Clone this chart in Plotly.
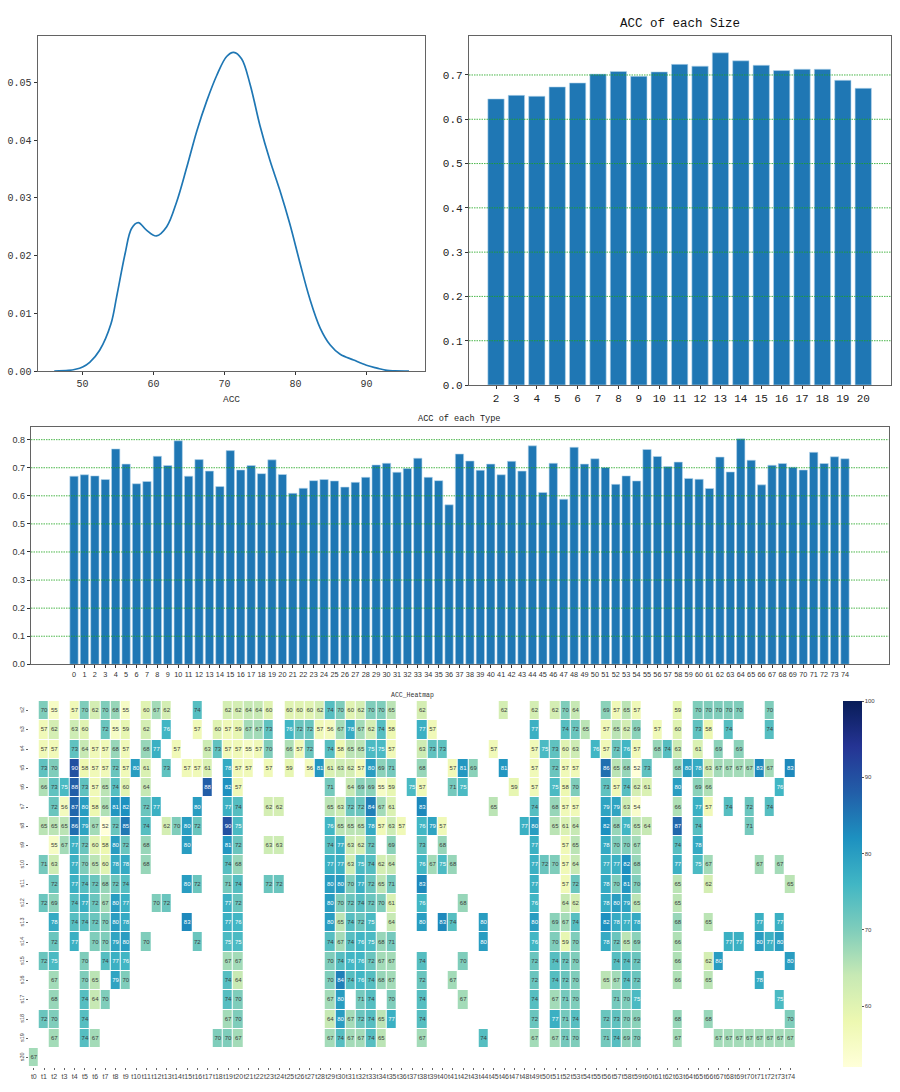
"""ACC overview: density, accuracy per size, accuracy per type and a size/type heatmap."""

import plotly.graph_objects as go

FIG_W = 900
FIG_H = 1092
BAR_BLUE = "#1f77b4"
FRAME = "#636363"
GRID = "rgba(30,165,30,0.8)"
MONO = "Liberation Mono, monospace"
SANS = "Liberation Sans, Arial, sans-serif"

# density curve
kde_x = [46, 48, 49, 50, 51, 52.4, 54, 54.8, 56, 56.9, 57.85, 59, 60.4, 61.85, 63.25,
         64.7, 66.1, 67.5, 68.9, 70.3, 71.3, 72.4, 73.6, 75, 76.4, 77.8, 79.2, 80.6,
         82, 83.5, 84.9, 86.3, 88.2, 90, 91.5, 92.9, 94, 96]
kde_y = [0, 0.0001, 0.0003, 0.0007, 0.0015, 0.0036, 0.0082, 0.0129, 0.0204, 0.0247,
         0.0257, 0.0244, 0.0234, 0.025, 0.0293, 0.0354, 0.0416, 0.0468, 0.0512, 0.0545,
         0.0552, 0.0541, 0.0497, 0.0425, 0.0365, 0.0313, 0.0255, 0.0189, 0.0126, 0.0074,
         0.0045, 0.0029, 0.0019, 0.001, 0.0005, 0.0001, 0.00003, 0]

size_labels = list(range(2, 21))
size_acc = [0.646, 0.654, 0.652, 0.673, 0.682, 0.702, 0.708, 0.697, 0.707, 0.724,
            0.72, 0.75, 0.732, 0.722, 0.71, 0.713, 0.713, 0.688, 0.67]

type_labels = list(range(75))
type_acc = [0.67, 0.675, 0.671, 0.658, 0.767, 0.713, 0.643, 0.651, 0.741, 0.708,
            0.796, 0.67, 0.729, 0.688, 0.633, 0.761, 0.692, 0.708, 0.679, 0.728,
            0.676, 0.609, 0.627, 0.654, 0.658, 0.653, 0.631, 0.648, 0.666, 0.71,
            0.716, 0.684, 0.697, 0.734, 0.666, 0.654, 0.568, 0.749, 0.724, 0.691,
            0.713, 0.675, 0.723, 0.688, 0.778, 0.612, 0.716, 0.588, 0.773, 0.713,
            0.732, 0.701, 0.641, 0.671, 0.653, 0.765, 0.74, 0.704, 0.72, 0.662,
            0.659, 0.626, 0.738, 0.685, 0.803, 0.727, 0.639, 0.709, 0.715, 0.702,
            0.692, 0.755, 0.715, 0.739, 0.732]

# heatmap cells per size, {type index: accuracy}; anything missing stays blank
s2 = {1: 70, 2: 55, 4: 57, 5: 70, 6: 62, 7: 70, 8: 68, 9: 55, 11: 60, 12: 67, 13: 62, 16: 74,
      19: 62, 20: 62, 21: 64, 22: 64, 23: 60, 25: 60, 26: 60, 27: 60, 28: 62, 29: 74, 30: 70,
      31: 60, 32: 62, 33: 70, 34: 70, 35: 65, 38: 62, 46: 62, 49: 62, 51: 62, 52: 70, 53: 64,
      56: 69, 57: 57, 58: 65, 59: 57, 63: 59, 65: 70, 66: 70, 67: 70, 68: 70, 69: 70, 72: 70}
s3 = {1: 57, 2: 62, 4: 63, 5: 60, 7: 72, 8: 55, 9: 59, 11: 62, 13: 76, 16: 57, 18: 60, 19: 57,
      20: 59, 21: 67, 22: 67, 23: 73, 25: 76, 26: 72, 27: 72, 28: 57, 29: 56, 30: 67, 31: 78,
      32: 67, 33: 62, 34: 74, 35: 58, 38: 77, 39: 57, 49: 77, 52: 74, 53: 72, 54: 65, 56: 57,
      57: 65, 58: 62, 59: 69, 61: 57, 63: 60, 65: 73, 66: 58, 68: 74, 72: 74}
s4 = {1: 57, 2: 57, 4: 73, 5: 64, 6: 57, 7: 57, 8: 68, 9: 57, 11: 68, 12: 77, 14: 57, 17: 63,
      18: 73, 19: 57, 20: 57, 21: 55, 22: 57, 23: 70, 25: 66, 26: 57, 27: 72, 29: 74, 30: 58,
      31: 65, 32: 65, 33: 75, 34: 75, 35: 57, 38: 63, 39: 73, 40: 73, 45: 57, 49: 57, 50: 75,
      51: 73, 52: 60, 53: 63, 55: 76, 56: 57, 57: 72, 58: 76, 59: 57, 61: 68, 62: 74, 63: 63,
      65: 61, 67: 69, 69: 69}
s5 = {1: 73, 2: 70, 4: 90, 5: 58, 6: 57, 7: 57, 8: 72, 9: 57, 10: 80, 11: 61, 13: 73, 15: 57,
      16: 57, 17: 61, 19: 78, 20: 57, 21: 57, 23: 57, 25: 59, 27: 56, 28: 81, 29: 61, 30: 63,
      31: 62, 32: 57, 33: 80, 34: 69, 35: 71, 38: 68, 41: 57, 42: 81, 43: 69, 46: 81, 49: 57,
      51: 72, 52: 57, 53: 57, 56: 86, 57: 65, 58: 68, 59: 52, 60: 73, 63: 68, 64: 80, 65: 78,
      66: 63, 67: 67, 68: 67, 69: 67, 70: 67, 71: 83, 72: 67, 74: 83}
s6 = {1: 66, 2: 73, 3: 75, 4: 88, 5: 73, 6: 57, 7: 65, 8: 74, 9: 60, 11: 64, 17: 88, 19: 82,
      20: 57, 29: 71, 31: 64, 32: 69, 33: 69, 34: 55, 35: 59, 37: 75, 38: 57, 41: 71, 42: 75,
      47: 59, 49: 57, 51: 75, 52: 58, 53: 70, 56: 73, 57: 57, 58: 74, 59: 62, 60: 61, 63: 80,
      65: 69, 66: 66, 73: 76}
s7 = {2: 72, 3: 56, 4: 87, 5: 80, 6: 58, 7: 66, 8: 81, 9: 82, 11: 72, 12: 77, 16: 80, 19: 77,
      20: 74, 23: 62, 24: 62, 29: 65, 30: 63, 31: 72, 32: 72, 33: 84, 34: 67, 35: 61, 38: 83,
      45: 65, 49: 74, 51: 68, 52: 57, 53: 57, 56: 79, 57: 79, 58: 63, 59: 54, 63: 66, 65: 77,
      66: 57, 68: 74, 70: 72, 72: 74}
s8 = {1: 65, 2: 65, 3: 65, 4: 86, 5: 79, 6: 67, 7: 52, 8: 72, 9: 85, 11: 74, 13: 62, 14: 70,
      15: 80, 16: 72, 19: 90, 20: 75, 29: 76, 30: 65, 31: 65, 32: 65, 33: 78, 34: 57, 35: 63,
      36: 57, 38: 76, 39: 79, 40: 57, 48: 77, 49: 80, 51: 65, 52: 61, 53: 64, 56: 82, 57: 68,
      58: 76, 59: 65, 60: 64, 63: 87, 65: 74, 70: 71}
s9 = {2: 55, 3: 67, 4: 77, 5: 72, 6: 60, 7: 58, 8: 80, 9: 72, 11: 68, 15: 80, 19: 81, 20: 72,
      23: 63, 24: 63, 29: 74, 30: 77, 31: 63, 32: 62, 33: 72, 35: 69, 38: 73, 40: 68, 49: 77,
      52: 57, 53: 65, 56: 78, 57: 70, 58: 70, 59: 67, 63: 74, 65: 78}
s10 = {1: 71, 2: 63, 4: 77, 5: 70, 6: 65, 7: 60, 8: 78, 9: 78, 11: 68, 19: 74, 20: 68, 29: 77,
       30: 77, 31: 63, 32: 75, 33: 74, 34: 62, 35: 64, 38: 76, 39: 67, 40: 75, 41: 68, 49: 77,
       50: 72, 51: 70, 52: 57, 53: 64, 56: 77, 57: 77, 58: 82, 59: 68, 63: 77, 65: 75, 66: 67,
       71: 67, 73: 67}
s11 = {2: 72, 4: 77, 5: 74, 6: 72, 7: 68, 8: 72, 9: 74, 15: 80, 16: 72, 19: 71, 20: 74, 23: 72,
       24: 72, 29: 80, 30: 80, 31: 70, 32: 77, 33: 72, 34: 65, 35: 71, 38: 83, 49: 77, 52: 57,
       53: 72, 56: 78, 57: 70, 58: 81, 59: 70, 63: 65, 66: 62, 74: 65}
s12 = {1: 72, 2: 69, 4: 74, 5: 77, 6: 72, 7: 67, 8: 80, 9: 77, 12: 70, 13: 72, 19: 77, 20: 72,
       29: 80, 30: 70, 31: 72, 32: 74, 33: 72, 34: 70, 35: 61, 38: 76, 42: 68, 49: 76, 52: 64,
       53: 62, 56: 78, 57: 80, 58: 79, 59: 65, 63: 65}
s13 = {2: 78, 4: 74, 5: 74, 6: 72, 7: 70, 8: 80, 9: 78, 15: 83, 19: 77, 20: 76, 29: 80, 30: 65,
       31: 74, 32: 72, 33: 75, 35: 64, 38: 80, 40: 83, 41: 74, 44: 80, 49: 80, 51: 69, 52: 67,
       53: 74, 56: 82, 57: 78, 58: 77, 59: 78, 63: 68, 66: 65, 71: 77, 73: 77}
s14 = {2: 72, 4: 77, 6: 70, 7: 70, 8: 79, 9: 80, 11: 70, 16: 72, 19: 75, 20: 75, 29: 74, 30: 67,
       31: 74, 32: 76, 33: 75, 34: 68, 35: 71, 44: 80, 49: 76, 51: 70, 52: 59, 53: 70, 56: 78,
       57: 72, 58: 65, 59: 69, 63: 66, 68: 77, 69: 77, 71: 80, 72: 77, 73: 80}
s15 = {1: 72, 2: 75, 5: 70, 7: 74, 8: 77, 9: 76, 19: 67, 20: 67, 29: 70, 30: 74, 31: 76, 32: 76,
       33: 72, 34: 67, 35: 67, 38: 74, 42: 70, 49: 72, 51: 74, 52: 72, 53: 70, 57: 74, 58: 74,
       59: 72, 63: 66, 66: 62, 67: 80, 74: 80}
s16 = {2: 67, 5: 70, 6: 65, 8: 79, 9: 70, 19: 74, 20: 64, 29: 70, 30: 84, 31: 74, 32: 76, 33: 74,
       34: 68, 35: 67, 38: 72, 41: 67, 49: 72, 51: 74, 52: 72, 53: 70, 56: 65, 57: 67, 58: 74,
       59: 72, 63: 66, 66: 65, 71: 78}
s17 = {2: 68, 5: 74, 6: 64, 7: 70, 19: 74, 20: 70, 29: 67, 30: 80, 32: 71, 33: 74, 35: 70, 38: 74,
       42: 67, 49: 74, 51: 67, 52: 71, 53: 70, 57: 71, 58: 70, 59: 75, 73: 75}
s18 = {1: 72, 2: 70, 5: 74, 19: 67, 20: 70, 29: 64, 30: 80, 31: 67, 32: 72, 33: 74, 34: 65, 35: 77,
       38: 74, 49: 72, 51: 77, 52: 71, 53: 74, 56: 72, 57: 73, 58: 70, 59: 69, 63: 68, 66: 68, 74: 70}
s19 = {2: 67, 5: 74, 6: 67, 18: 70, 19: 70, 20: 67, 29: 67, 30: 74, 31: 67, 32: 67, 33: 74, 34: 65,
       38: 67, 44: 74, 49: 67, 51: 67, 52: 71, 53: 70, 56: 71, 57: 74, 58: 69, 59: 70, 63: 67,
       67: 67, 68: 67, 69: 67, 70: 67, 71: 67, 72: 67, 73: 67, 74: 67}
s20 = {0: 67}

heat_rows = [s2, s3, s4, s5, s6, s7, s8, s9, s10, s11, s12, s13, s14, s15, s16, s17, s18, s19, s20]
row_names = [f"s{i}" for i in range(2, 21)]
col_names = [f"t{i}" for i in range(75)]
color_ticks = [60, 70, 80, 90, 100]


def x_dom(left, right):
    return [left / FIG_W, right / FIG_W]


def y_dom(top, bottom):
    return [1 - bottom / FIG_H, 1 - top / FIG_H]


def frame_axis(**kw):
    return dict(showline=True, linecolor=FRAME, linewidth=1.3, mirror=True, ticks="outside",
                ticklen=3, tickcolor="#333333", showgrid=False, zeroline=False, **kw)


def green_gridline(fig, value, xref, yref):
    # shapes so that the dotted lines stay on top of the bars
    fig.add_shape(type="line", xref=f"{xref} domain", yref=yref, x0=0, x1=1, y0=value, y1=value,
                  line=dict(color=GRID, width=1, dash="1.5px,1px"), layer="above")


def title_note(text, x_px, y_px, size, color):
    return dict(text=text, x=x_px / FIG_W, y=1 - y_px / FIG_H, xref="paper", yref="paper",
                xanchor="center", yanchor="middle", showarrow=False,
                font=dict(family=MONO, size=size, color=color))


matrix = [[row.get(i) for i in range(75)] for row in heat_rows]
cell_x, cell_y, cell_text, cell_color = [], [], [], []
for name, row in zip(row_names, heat_rows):
    for col, val in row.items():
        cell_x.append(col_names[col])
        cell_y.append(name)
        cell_text.append(str(val))
        cell_color.append("#ffffff" if val >= 75 else "#3c3c3c")

fig = go.Figure()
fig.add_trace(go.Scatter(x=kde_x, y=kde_y, mode="lines", xaxis="x", yaxis="y",
                         line=dict(color=BAR_BLUE, width=1.7, shape="spline", smoothing=1)))
fig.add_trace(go.Bar(x=size_labels, y=size_acc, xaxis="x2", yaxis="y2", width=0.8,
                     marker=dict(color=BAR_BLUE, line=dict(color="#b9d6ec", width=0.6))))
fig.add_trace(go.Bar(x=type_labels, y=type_acc, xaxis="x3", yaxis="y3", width=0.8,
                     marker=dict(color=BAR_BLUE, line=dict(color="#b9d6ec", width=0.6))))
fig.add_trace(go.Heatmap(
    z=matrix, x=col_names, y=row_names, xaxis="x4", yaxis="y4", zmin=52, zmax=100,
    colorscale="YlGnBu", xgap=1, ygap=1, hoverongaps=False,
    colorbar=dict(x=843 / FIG_W, xanchor="left", xpad=0, y=1 - 1067 / FIG_H, yanchor="bottom", ypad=0,
                  len=365.5 / FIG_H, lenmode="fraction", thickness=19,
                  thicknessmode="pixels", outlinewidth=0, tickvals=color_ticks, ticks="outside",
                  ticklen=2, tickcolor="#555555", tickfont=dict(family=SANS, size=6, color="#444444")),
))
fig.add_trace(go.Scatter(x=cell_x, y=cell_y, text=cell_text, mode="text", xaxis="x4", yaxis="y4",
                         textposition="middle center", hoverinfo="skip",
                         textfont=dict(family=SANS, size=6, color=cell_color)))

for v in [0.1, 0.2, 0.3, 0.4, 0.5, 0.6, 0.7]:
    green_gridline(fig, v, "x2", "y2")
for v in [0.1, 0.2, 0.3, 0.4, 0.5, 0.6, 0.7, 0.8]:
    green_gridline(fig, v, "x3", "y3")

fig.update_layout(
    width=FIG_W, height=FIG_H, margin=dict(l=0, r=0, t=0, b=0, autoexpand=False), paper_bgcolor="white",
    plot_bgcolor="white", showlegend=False, bargap=0.2,
    xaxis=frame_axis(domain=x_dom(37.7, 425.3), anchor="y", range=[43.67, 98.3],
                     tickvals=[50, 60, 70, 80, 90],
                     tickfont=dict(family=MONO, size=10, color="#333333"),
                     title=dict(text="ACC", font=dict(family=MONO, size=9.5, color="#333333"), standoff=6)),
    yaxis=frame_axis(domain=y_dom(35.7, 371), anchor="x", range=[0, 0.0581],
                     tickvals=[0, 0.01, 0.02, 0.03, 0.04, 0.05], tickformat=".2f",
                     tickfont=dict(family=MONO, size=10, color="#333333")),
    xaxis2=frame_axis(domain=x_dom(469, 891), anchor="y2", range=[0.676, 21.36],
                      tickvals=size_labels, tickfont=dict(family=MONO, size=11, color="#222222")),
    yaxis2=frame_axis(domain=y_dom(35.7, 385), anchor="x2", range=[0, 0.7887],
                      tickvals=[0, 0.1, 0.2, 0.3, 0.4, 0.5, 0.6, 0.7], tickformat=".1f",
                      tickfont=dict(family=MONO, size=11, color="#222222")),
    xaxis3=frame_axis(domain=x_dom(31, 888.7), anchor="y3", range=[-4.13, 78.2],
                      tickvals=type_labels, tickangle=0,
                      tickfont=dict(family=SANS, size=7.3, color="#333333")),
    yaxis3=frame_axis(domain=y_dom(427.3, 664.3), anchor="x3", range=[0, 0.844],
                      tickvals=[0, 0.1, 0.2, 0.3, 0.4, 0.5, 0.6, 0.7, 0.8], tickformat=".1f",
                      tickfont=dict(family=SANS, size=9, color="#333333")),
    xaxis4=dict(domain=x_dom(28.7, 795.4), anchor="y4", range=[-0.5, 74.5], showgrid=False,
                zeroline=False, showline=False, ticks="outside", ticklen=2, tickcolor="#666666",
                tickangle=0, tickmode="array", tickvals=col_names, ticktext=col_names,
                tickfont=dict(family=SANS, size=7, color="#444444")),
    yaxis4=dict(domain=y_dom(701, 1067.4), anchor="x4", range=[18.5, -0.5], showgrid=False,
                zeroline=False, showline=False, ticks="outside", ticklen=2, tickcolor="#666666",
                tickangle=-90, tickmode="array", tickvals=row_names, ticktext=row_names,
                tickfont=dict(family=SANS, size=5.5, color="#444444")),
    annotations=[
        title_note("ACC of each Size", 680, 24, 12.5, "#111111"),
        title_note("ACC of each Type", 459.5, 419.5, 8.6, "#222222"),
        title_note("ACC_Heatmap", 412, 695.5, 6.5, "#333333"),
    ],
)

fig.write_html("out.html", post_script="document.body.style.margin='0';",
               config={"displayModeBar": False})
